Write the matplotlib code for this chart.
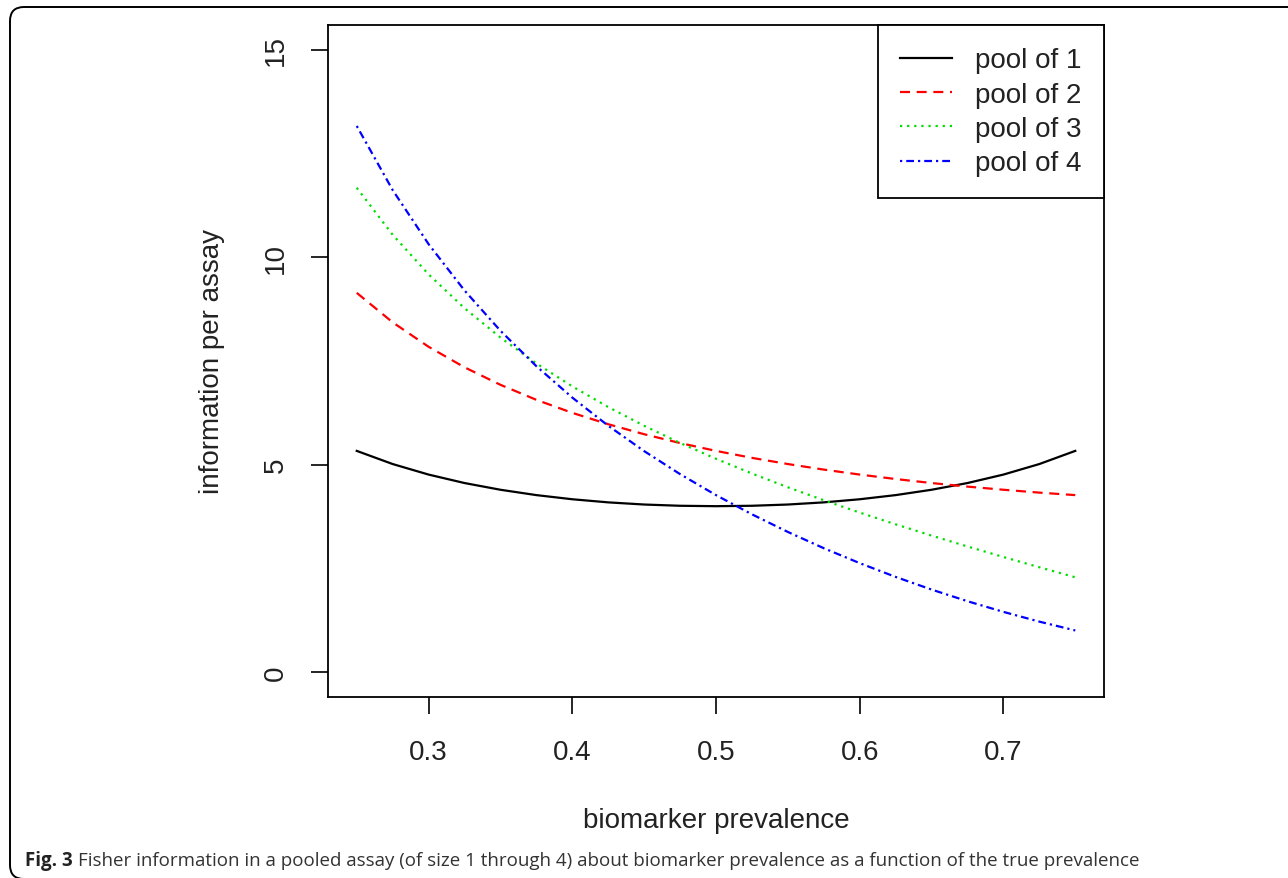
import matplotlib
matplotlib.use("Agg")
import matplotlib.pyplot as plt
from matplotlib.patches import FancyBboxPatch

# Data (biomarker prevalence vs information per assay)
prevalence = [0.25, 0.275, 0.30, 0.325, 0.35, 0.375, 0.40, 0.425, 0.45, 0.475, 0.50,
              0.525, 0.55, 0.575, 0.60, 0.625, 0.65, 0.675, 0.70, 0.725, 0.75]
pool1 = [5.333, 5.016, 4.762, 4.558, 4.396, 4.267, 4.167, 4.092, 4.040, 4.010, 4.000,
         4.010, 4.040, 4.092, 4.167, 4.267, 4.396, 4.558, 4.762, 5.016, 5.333]
pool2 = [9.143, 8.432, 7.843, 7.348, 6.926, 6.564, 6.250, 5.976, 5.735, 5.522, 5.333,
         5.165, 5.016, 4.882, 4.762, 4.655, 4.558, 4.472, 4.396, 4.327, 4.267]
pool3 = [11.676, 10.543, 9.589, 8.773, 8.065, 7.442, 6.888, 6.390, 5.938, 5.524, 5.143,
         4.788, 4.456, 4.143, 3.846, 3.563, 3.291, 3.029, 2.775, 2.528, 2.286]
pool4 = [13.166, 11.621, 10.317, 9.200, 8.229, 7.375, 6.618, 5.939, 5.328, 4.773, 4.267,
         3.804, 3.379, 2.987, 2.627, 2.295, 1.990, 1.709, 1.452, 1.217, 1.004]
series_labels = ["pool of 1", "pool of 2", "pool of 3", "pool of 4"]
x_ticks = [0.3, 0.4, 0.5, 0.6, 0.7]
y_ticks = [0, 5, 10, 15]
x_label = "biomarker prevalence"
y_label = "information per assay"
caption_bold = "Fig. 3"
caption_text = ("Fisher information in a pooled assay (of size 1 through 4) about biomarker "
                "prevalence as a function of the true prevalence")

W, H, DPI = 1288, 879, 100
fig = plt.figure(figsize=(W / DPI, H / DPI), dpi=DPI)
fig.patch.set_facecolor("white")

# axes box in pixel coordinates
left, right, top, bottom = 328, 1104, 26, 698
ax = fig.add_axes([left / W, 1 - bottom / H, (right - left) / W, (bottom - top) / H])

axis_font = "Liberation Sans"
fs = 20

styles = [
    dict(color="black", linestyle="-"),
    dict(color="#ff0000", linestyle=(0, (4.5, 3))),
    dict(color="#00dd00", linestyle=(0, (1, 2.2))),
    dict(color="#0000ff", linestyle=(0, (1, 1.8, 3.5, 1.8))),
]
for ys, lab, st in zip([pool1, pool2, pool3, pool4], series_labels, styles):
    ax.plot(prevalence, ys, lw=1.6, label=lab, **st)

ax.set_xlim(0.25 - 0.02, 0.75 + 0.02)
ax.set_ylim(-0.6, 15.6)
ax.set_xticks(x_ticks)
ax.set_xticklabels([f"{v:.1f}" for v in x_ticks], fontsize=fs, family=axis_font)
ax.set_yticks(y_ticks)
ax.set_yticklabels([str(v) for v in y_ticks], fontsize=fs, family=axis_font,
                   rotation=90, va="center")
ax.tick_params(direction="out", length=12, width=1.2, color="black", labelcolor="#222222")
ax.tick_params(axis="x", pad=18)
ax.tick_params(axis="y", pad=16)
for sp in ax.spines.values():
    sp.set_linewidth(1.3)
    sp.set_color("black")

ax.set_xlabel(x_label, fontsize=fs, family=axis_font, color="#222222")
ax.set_ylabel(y_label, fontsize=fs, family=axis_font, color="#222222")
ax.xaxis.set_label_coords(0.5, (bottom - 821) / (bottom - top))
ax.xaxis.label.set_va("center")
ax.yaxis.set_label_coords((212 - left) / (right - left), 0.5)
ax.yaxis.label.set_va("center")
ax.yaxis.label.set_rotation_mode("anchor")

leg = ax.legend(loc="upper right", bbox_to_anchor=(1, 1), borderaxespad=0,
                prop=dict(family=axis_font, size=fs), frameon=True, fancybox=False,
                edgecolor="black", framealpha=1, handlelength=1.85, handletextpad=0.85,
                labelspacing=0.3, borderpad=0.8)
leg.get_frame().set_linewidth(1.3)
for t in leg.get_texts():
    t.set_color("#222222")

# outer rounded border (bottom edge just off the image)
border = FancyBboxPatch((10, -1), W + 10, H - 8 + 1,
                        boxstyle="round,pad=0,rounding_size=14",
                        transform=None, facecolor="none", edgecolor="black", lw=1.4)
fig.patches.append(border)

# caption
cap_font = "Open Sans"
cap_fs = 13.5
cap_y = 13 / H
t1 = fig.text(25 / W, cap_y, caption_bold, fontsize=cap_fs, family=cap_font,
              weight="bold", va="baseline", ha="left", color="#222222")
fig.canvas.draw()
bb = t1.get_window_extent(renderer=fig.canvas.get_renderer())
fig.text((bb.x1 + 5) / W, cap_y, caption_text, fontsize=cap_fs, family=cap_font,
         va="baseline", ha="left", color="#333333")

fig.savefig("out.png", dpi=DPI)
